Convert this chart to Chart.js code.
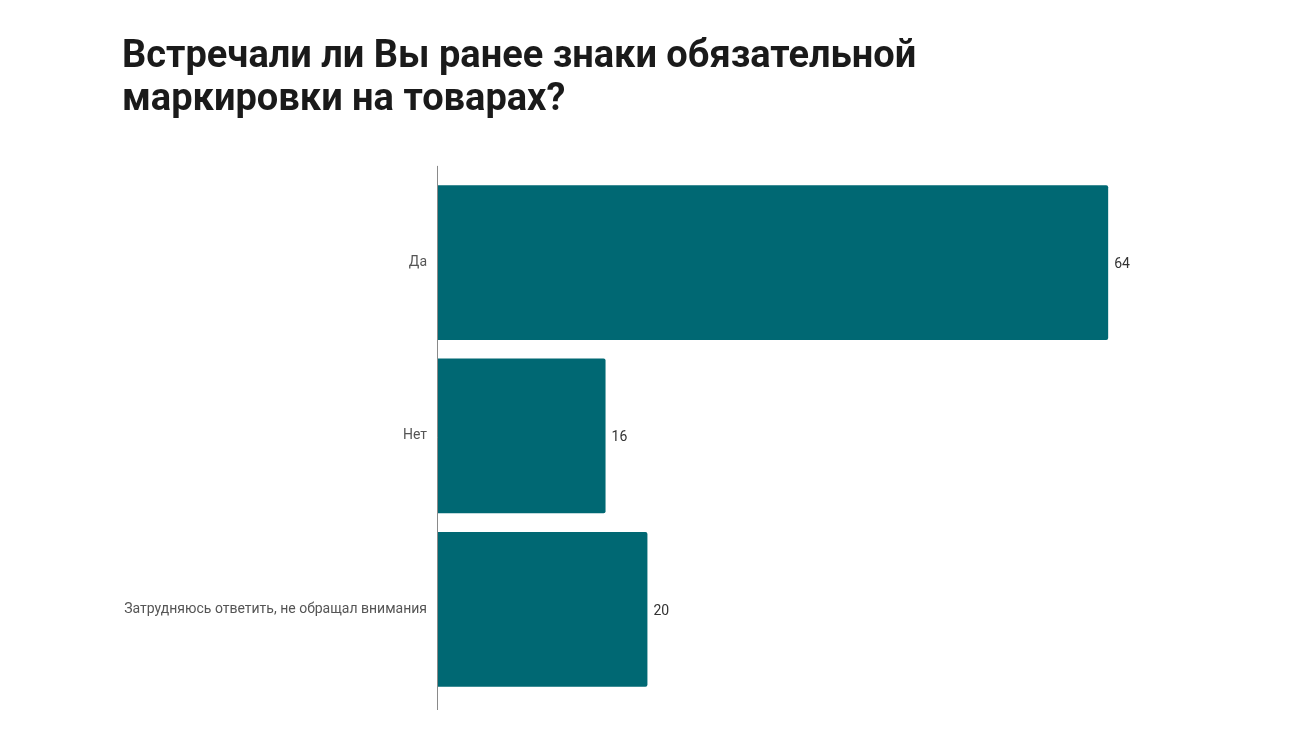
<!DOCTYPE html>
<html>
<head>
<meta charset="utf-8">
<script src="https://cdn.jsdelivr.net/npm/chart.js@4"></script>
<style>
  html, body { margin: 0; padding: 0; background: #fff; }
  #wrap { width: 1300px; height: 739px; }
</style>
</head>
<body>
<div id="wrap"><canvas id="grafico"></canvas></div>
<script>
const titulo = ["Встречали ли Вы ранее знаки обязательной", "маркировки на товарах?"];
const categorias = ["Да", "Нет", "Затрудняюсь ответить, не обращал внимания"];
const valores = [64, 16, 20];

// подписи значений справа от столбцов
const valueLabels = {
  id: "valueLabels",
  afterDatasetsDraw(chart) {
    const ctx = chart.ctx;
    ctx.save();
    ctx.font = "14px Roboto";
    ctx.fillStyle = "#333";
    ctx.textAlign = "left";
    ctx.textBaseline = "middle";
    chart.getDatasetMeta(0).data.forEach((bar, i) => {
      ctx.fillText(valores[i], bar.x + 6, bar.y + 2);
    });
    ctx.restore();
  }
};

// вертикальная линия оси, чуть длиннее области графика
const axisLine = {
  id: "axisLine",
  beforeDatasetsDraw(chart) {
    const a = chart.chartArea;
    const ctx = chart.ctx;
    ctx.save();
    ctx.strokeStyle = "#8a8a8a";
    ctx.lineWidth = 1;
    ctx.beginPath();
    ctx.moveTo(a.left - 0.5, a.top - 10);
    ctx.lineTo(a.left - 0.5, a.bottom + 14);
    ctx.stroke();
    ctx.restore();
  }
};

new Chart(document.getElementById("grafico"), {
  type: "bar",
  data: {
    labels: categorias,
    datasets: [
      {
        data: valores,
        backgroundColor: "#006873",
        borderRadius: 2,
        borderSkipped: "start",
        categoryPercentage: 1,
        barPercentage: 0.893,
      },
    ],
  },
  options: {
    indexAxis: "y",
    responsive: true,
    maintainAspectRatio: false,
    animation: false,
    layout: {
      padding: { left: 122, right: 129, top: 0, bottom: 43 },
    },
    scales: {
      x: {
        display: false,
        min: 0,
        max: 70,
      },
      y: {
        grid: { display: false, drawTicks: false },
        border: { display: false },
        ticks: {
          color: "#555",
          padding: 11,
          font: { family: "Roboto", size: 14 },
        },
        afterFit(scale) {
          scale.width = 316; // левый край области графика на x=438
        },
      },
    },
    plugins: {
      legend: { display: false },
      tooltip: { enabled: false },
      title: {
        display: true,
        text: titulo,
        align: "start",
        color: "#1a1a1a",
        font: { family: "Roboto", weight: "bold", size: 38, lineHeight: 1.13 },
        padding: { top: 36, bottom: 54 },
      },
    },
  },
  plugins: [valueLabels, axisLine],
});
</script>
</body>
</html>
